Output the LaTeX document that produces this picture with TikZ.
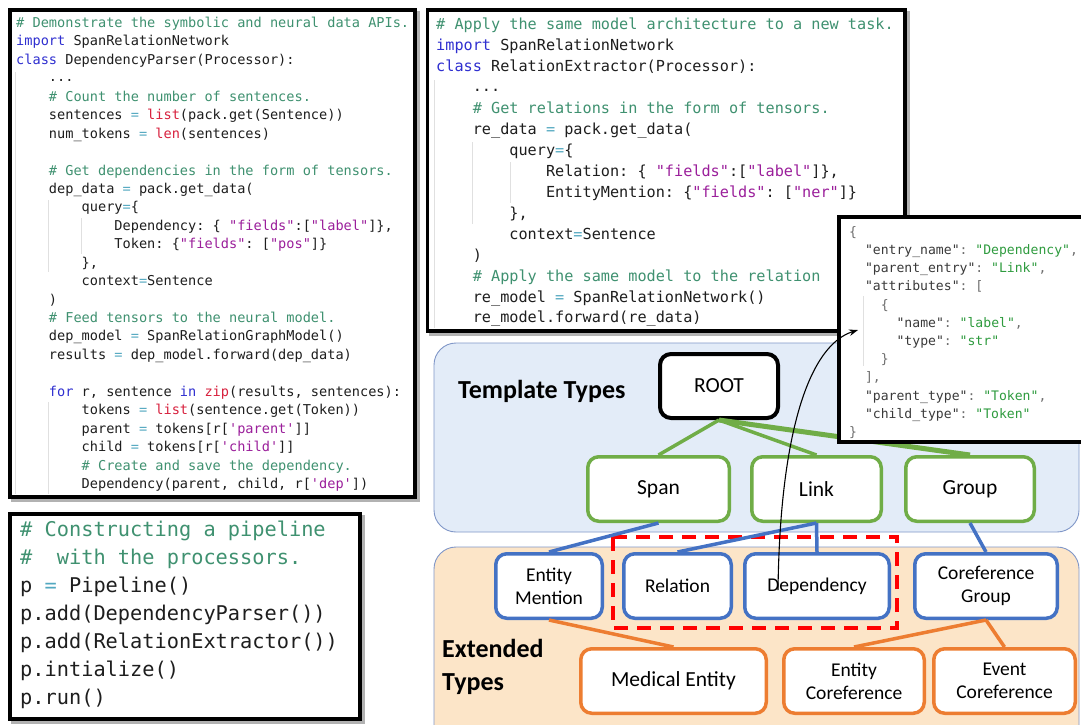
\documentclass[tikz,border=0pt]{standalone}
\usepackage{fontspec}
\setmainfont{Carlito}
\setmonofont{DejaVu Sans Mono}
\usetikzlibrary{arrows.meta}
\definecolor{codetxt}{HTML}{1E1E1E}
\definecolor{cmtc}{HTML}{3F9170}
\definecolor{kwc}{HTML}{2F2FD0}
\definecolor{bic}{HTML}{D8213E}
\definecolor{strc}{HTML}{9B1F9B}
\definecolor{opc}{HTML}{52A8C0}
\definecolor{jkey}{HTML}{3A3A3A}
\definecolor{jval}{HTML}{2E9B3E}
\definecolor{jpun}{HTML}{6E6E6E}
\definecolor{tgreen}{HTML}{70AD47}
\definecolor{tblue}{HTML}{4472C4}
\definecolor{torange}{HTML}{ED7D31}
\definecolor{tplfill}{HTML}{E3ECF8}
\definecolor{extfill}{HTML}{FCE5C8}
\definecolor{regdraw}{HTML}{8097C8}
\newcommand\kwC[1]{\textcolor{kwc}{#1}}
\newcommand\cmC[1]{\textcolor{cmtc}{#1}}
\newcommand\biC[1]{\textcolor{bic}{#1}}
\newcommand\stC[1]{\textcolor{strc}{#1}}
\newcommand\opC[1]{\textcolor{opc}{#1}}
\newcommand\jkC[1]{\textcolor{jkey}{#1}}
\newcommand\jvC[1]{\textcolor{jval}{#1}}
\newcommand\CL[5]{\node[#2] (#1) at (#3,#4) {#5};}
\begin{document}
\begin{tikzpicture}[x=1pt,y=-1pt,
 codeTL/.style={anchor=base west,inner sep=0pt,text=codetxt,font=\ttfamily\fontsize{13.6}{16}\selectfont},
 codeTM/.style={anchor=base west,inner sep=0pt,text=codetxt,font=\ttfamily\fontsize{15.2}{18}\selectfont},
 codeBL/.style={anchor=base west,inner sep=0pt,text=codetxt,font=\ttfamily\fontsize{20.3}{24}\selectfont},
 codeJS/.style={anchor=base west,inner sep=0pt,text=jpun,font=\ttfamily\fontsize{13.1}{16}\selectfont},
 codebox/.style={draw=black,line width=3.5pt,fill=white},
 boxshadow/.style={draw=black!30,fill=black!30,line width=3.5pt},
 guide/.style={draw=black!12,line width=0.8pt},
 region/.style={draw=regdraw,line width=0.9pt,rounded corners=22pt},
 typebox/.style={line width=3.5pt,fill=white,rounded corners=11pt,minimum height=64.5pt,inner sep=1pt,align=center,text=black},
 rootbox/.style={typebox,draw=black,line width=4pt,font=\fontsize{21.5}{25}\selectfont},
 tbox/.style={typebox,draw=tgreen,font=\fontsize{21.5}{25}\selectfont},
 bbox/.style={typebox,draw=tblue,font=\fontsize{19.5}{23}\selectfont},
 obox/.style={typebox,draw=torange,font=\fontsize{19.5}{23}\selectfont},
 glink/.style={draw=tgreen,line width=3.5pt},
 blink/.style={draw=tblue,line width=3.5pt},
 olink/.style={draw=torange,line width=3.5pt},
 redbox/.style={draw=red,line width=4pt,dash pattern=on 14pt off 9pt},
 bigtitle/.style={anchor=base west,inner sep=0pt,font=\bfseries\fontsize{26}{30}\selectfont}
]
\useasboundingbox (0,0) rectangle (1081,724);
\clip (0,0) rectangle (1081,724);
\fill[white] (0,0) rectangle (1081,724);

% ---------- top-left code box ----------
\draw[boxshadow] (13,13) rectangle (418,500);
\draw[codebox] (10,10) rectangle (415,497);
\draw[guide] (15,72) -- (15,494);
\draw[guide] (48,200) -- (48,272);
\draw[guide] (81,218) -- (81,254);
\draw[guide] (48,402) -- (48,494);
\CL{tl1}{codeTL}{16}{27.5}{\cmC{\# Demonstrate the symbolic and neural data APIs.}}
\CL{tl2}{codeTL}{16}{45.94}{\kwC{import} SpanRelationNetwork}
\CL{tl3}{codeTL}{16}{64.38}{\kwC{class} DependencyParser(Processor):}
\CL{tl4}{codeTL}{48.76}{81.5}{...}
\CL{tl5}{codeTL}{48.76}{101.26}{\cmC{\# Count the number of sentences.}}
\CL{tl6}{codeTL}{48.76}{119.7}{sentences \opC{=} \biC{list}(pack.get(Sentence))}
\CL{tl7}{codeTL}{48.76}{138.14}{num\_tokens \opC{=} \biC{len}(sentences)}
\CL{tl9}{codeTL}{48.76}{175.02}{\cmC{\# Get dependencies in the form of tensors.}}
\CL{tl10}{codeTL}{48.76}{193.46}{dep\_data \opC{=} pack.get\_data(}
\CL{tl11}{codeTL}{81.52}{211.9}{query\opC{=}\{}
\CL{tl12}{codeTL}{114.28}{230.34}{Dependency: \{ \stC{"fields"}:[\stC{"label"}]\},}
\CL{tl13}{codeTL}{114.28}{248.78}{Token: \{\stC{"fields"}: [\stC{"pos"}]\}}
\CL{tl14}{codeTL}{81.52}{267.22}{\},}
\CL{tl15}{codeTL}{81.52}{285.66}{context\opC{=}Sentence}
\CL{tl16}{codeTL}{48.76}{304.1}{)}
\CL{tl17}{codeTL}{48.76}{322.54}{\cmC{\# Feed tensors to the neural model.}}
\CL{tl18}{codeTL}{48.76}{340.98}{dep\_model \opC{=} SpanRelationGraphModel()}
\CL{tl19}{codeTL}{48.76}{359.42}{results \opC{=} dep\_model.forward(dep\_data)}
\CL{tl21}{codeTL}{48.76}{396.3}{\kwC{for} r, sentence \kwC{in} \biC{zip}(results, sentences):}
\CL{tl22}{codeTL}{81.52}{414.74}{tokens \opC{=} \biC{list}(sentence.get(Token))}
\CL{tl23}{codeTL}{81.52}{433.18}{parent \opC{=} tokens[r[\stC{'parent'}]]}
\CL{tl24}{codeTL}{81.52}{451.62}{child \opC{=} tokens[r[\stC{'child'}]]}
\CL{tl25}{codeTL}{81.52}{470.06}{\cmC{\# Create and save the dependency.}}
\CL{tl26}{codeTL}{81.52}{488.5}{Dependency(parent, child, r[\stC{'dep'}])}

% ---------- top-middle code box ----------
\draw[boxshadow] (430.5,13) rectangle (908,334);
\draw[codebox] (427.5,10) rectangle (905,331);
\draw[guide] (434,80) -- (434,328);
\draw[guide] (472,142) -- (472,224);
\draw[guide] (510,162) -- (510,203);
\CL{tm1}{codeTM}{436}{29}{\cmC{\# Apply the same model architecture to a new task.}}
\CL{tm2}{codeTM}{436}{50}{\kwC{import} SpanRelationNetwork}
\CL{tm3}{codeTM}{436}{71}{\kwC{class} RelationExtractor(Processor):}
\CL{tm4}{codeTM}{472.6}{91}{...}
\CL{tm5}{codeTM}{472.6}{113}{\cmC{\# Get relations in the form of tensors.}}
\CL{tm6}{codeTM}{472.6}{134}{re\_data \opC{=} pack.get\_data(}
\CL{tm7}{codeTM}{509.2}{155}{query\opC{=}\{}
\CL{tm8}{codeTM}{545.8}{176}{Relation: \{ \stC{"fields"}:[\stC{"label"}]\},}
\CL{tm9}{codeTM}{545.8}{197}{EntityMention: \{\stC{"fields"}: [\stC{"ner"}]\}}
\CL{tm10}{codeTM}{509.2}{218}{\},}
\CL{tm11}{codeTM}{509.2}{239}{context\opC{=}Sentence}
\CL{tm12}{codeTM}{472.6}{260}{)}
\CL{tm13}{codeTM}{472.6}{281}{\cmC{\# Apply the same model to the relation}}
\CL{tm14}{codeTM}{472.6}{302}{re\_model \opC{=} SpanRelationNetwork()}
\CL{tm15}{codeTM}{472.6}{322.5}{re\_model.forward(re\_data)}

% ---------- bottom-left code box ----------
\draw[boxshadow] (13,517) rectangle (363,722);
\draw[codebox] (10,514) rectangle (360,719);
\CL{bl1}{codeBL}{20}{536.7}{\cmC{\# Constructing a pipeline}}
\CL{bl2}{codeBL}{20}{564.7}{\cmC{\#\ \ with the processors.}}
\CL{bl3}{codeBL}{20}{592.7}{p \opC{=} Pipeline()}
\CL{bl4}{codeBL}{20}{620.7}{p.add(DependencyParser())}
\CL{bl5}{codeBL}{20}{648.7}{p.add(RelationExtractor())}
\CL{bl6}{codeBL}{20}{676.7}{p.intialize()}
\CL{bl7}{codeBL}{20}{704.7}{p.run()}

% ---------- type regions ----------
\draw[region,fill=tplfill] (434,343) rectangle (1079,532);
\draw[region,fill=extfill] (434,547) rectangle (1079,770);
\node[bigtitle] (tpltitle) at (458,398) {Template Types};
\node[bigtitle] (exttitle1) at (442,657) {Extended};
\node[bigtitle] (exttitle2) at (442,690) {Types};

\draw[redbox] (613,537) rectangle (897,628);

% ---------- type nodes ----------
\node[rootbox,minimum width=118pt,minimum height=64pt] (root) at (719,386) {ROOT};
\node[tbox,minimum width=141.5pt] (span) at (658.5,489) {Span};
\node[tbox,minimum width=129.5pt] (link) at (816.5,489) {Link};
\node[tbox,minimum width=128.5pt] (group) at (970,489) {Group};
\node[bbox,minimum width=106.5pt] (em) at (549,586) {Entity\\Mention};
\node[bbox,minimum width=107.5pt] (rel) at (677.5,586) {Relation};
\node[bbox,minimum width=144.5pt] (dep) at (817,586) {Dependency};
\node[bbox,minimum width=142.5pt] (cg) at (986,586) {Coreference\\Group};
\node[obox,minimum width=185.5pt,font=\fontsize{21.5}{25}\selectfont] (med) at (673.5,681) {Medical Entity};
\node[obox,minimum width=140.5pt] (ec) at (854,681) {Entity\\Coreference};
\node[obox,minimum width=141.5pt] (evc) at (1004.5,681) {Event\\Coreference};

% ---------- connectors ----------
\draw[glink] (root.south) -- (span.north);
\draw[glink] (root.south) -- (link.north);
\draw[glink,line width=5pt] (root.south) -- (group.north);
\draw[blink] (span.south) -- (em.north);
\draw[blink] (link.south) -- (rel.north);
\draw[blink] (link.south) -- (dep.north);
\draw[blink] (group.south) -- (cg.north);
\draw[olink] (em.south) -- (med.north);
\draw[olink] (cg.south) -- (ec.north);
\draw[olink] (cg.south) -- (evc.north);

% ---------- JSON box ----------
\draw[codebox] (839,217) rectangle (1095,442);
\draw[guide] (863,296) -- (863,366);
\CL{js1}{codeJS}{849}{236.3}{\{}
\CL{js2}{codeJS}{864.8}{254.5}{\jkC{"entry\_name"}: \jvC{"Dependency"},}
\CL{js3}{codeJS}{864.8}{272.7}{\jkC{"parent\_entry"}: \jvC{"Link"},}
\CL{js4}{codeJS}{864.8}{290.9}{\jkC{"attributes"}: [}
\CL{js5}{codeJS}{880.6}{309.1}{\{}
\CL{js6}{codeJS}{896.4}{327.3}{\jkC{"name"}: \jvC{"label"},}
\CL{js7}{codeJS}{896.4}{345.5}{\jkC{"type"}: \jvC{"str"}}
\CL{js8}{codeJS}{880.6}{363.7}{\}}
\CL{js9}{codeJS}{864.8}{381.9}{],}
\CL{js10}{codeJS}{864.8}{400.1}{\jkC{"parent\_type"}: \jvC{"Token"},}
\CL{js11}{codeJS}{864.8}{418.3}{\jkC{"child\_type"}: \jvC{"Token"}}
\CL{js12}{codeJS}{849}{436.5}{\}}

% ---------- arrow from Dependency to its JSON definition ----------
\coordinate (arrs) at (778,590);
\coordinate (arre) at (858,330);
\draw[line width=1.1pt,-{Stealth[length=9pt,width=6.5pt]}] (arrs) .. controls (780,430) and (810,345) .. (arre);
\end{tikzpicture}
\end{document}
